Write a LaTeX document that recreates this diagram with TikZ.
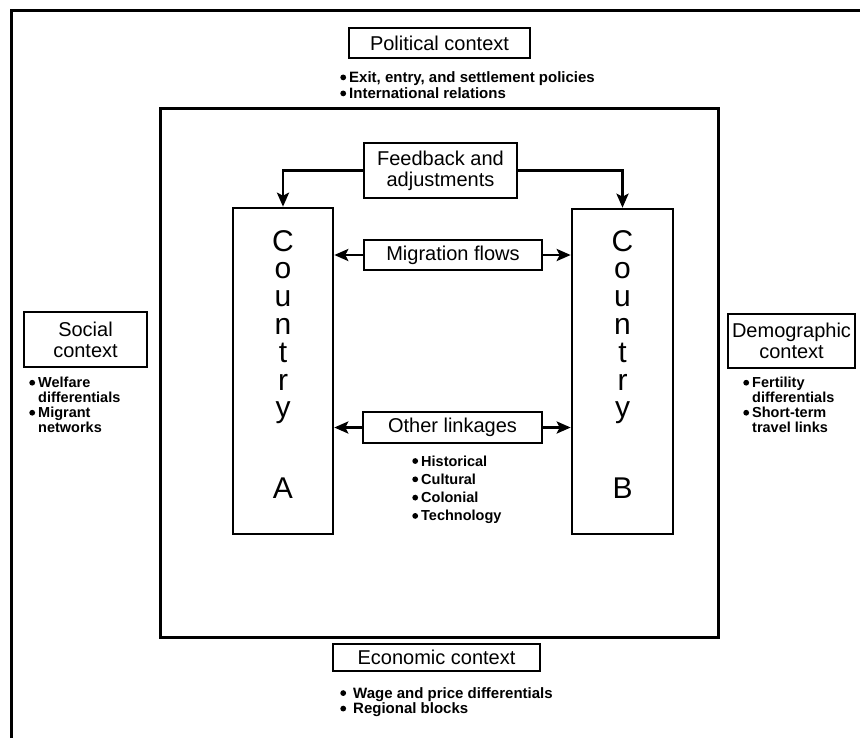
\documentclass[tikz,border=0pt]{standalone}
\usepackage{fontspec}
\setmainfont{Liberation Sans}
\usetikzlibrary{arrows.meta}
\newcommand{\blt}{\tikz[baseline=0pt]{\path (0pt,0pt) rectangle (6pt,9pt);\fill (3pt,5pt) circle[radius=2.9pt];}}
\begin{document}
\begin{tikzpicture}[x=1pt,y=-1pt,
  frame/.style={line width=3pt},
  ctx/.style={draw,line width=2.4pt,inner sep=0pt,align=center,font=\fontsize{20}{21}\selectfont},
  cbox/.style={draw,line width=2.6pt,inner sep=0pt,minimum width=100pt,minimum height=326pt},
  cname/.style={anchor=north,inner sep=0pt,align=center,font=\fontsize{30}{27.8}\selectfont},
  blist/.style={anchor=north west,inner sep=0pt,font=\bfseries\fontsize{15}{16}\selectfont},
  link/.style={line width=2.8pt,-{Stealth[length=14pt,width=12pt,inset=3pt]}}
]
\useasboundingbox (0,0) rectangle (860,740);
% outer frame
\draw[frame] (11,738) -- (11,10) -- (860,10);
% inner box
\node[draw,frame,minimum width=558pt,minimum height=529pt,inner sep=0pt] (inner) at (439,372.5) {};

% context boxes
\node[ctx,minimum width=181pt,minimum height=30pt] (pol) at (439.5,43) {Political context};
\node[blist] (polb) at (340,71) {\begin{tabular}{@{}l@{\hspace{3pt}}l@{}}\blt & Exit, entry, and settlement policies\\ \blt & International relations\end{tabular}};

\node[ctx,minimum width=207pt,minimum height=27pt] (eco) at (436.5,657.5) {Economic context};
\node[blist,font=\bfseries\fontsize{15}{15.5}\selectfont] (ecob) at (340,687) {\begin{tabular}{@{}l@{\hspace{7pt}}l@{}}\blt & Wage and price differentials\\ \blt & Regional blocks\end{tabular}};

\node[ctx,minimum width=123pt,minimum height=55pt] (soc) at (85.5,339.5) {Social\\context};
\node[blist,font=\bfseries\fontsize{14.5}{15}\selectfont] (socb) at (29,377) {\begin{tabular}{@{}l@{\hspace{3pt}}l@{}}\blt & Welfare\\ & differentials\\ \blt & Migrant\\ & networks\end{tabular}};

\node[ctx,minimum width=127pt,minimum height=54pt] (dem) at (791.5,341) {Demographic\\context};
\node[blist,font=\bfseries\fontsize{14.5}{15}\selectfont] (demb) at (743,377) {\begin{tabular}{@{}l@{\hspace{3pt}}l@{}}\blt & Fertility\\ & differentials\\ \blt & Short-term\\ & travel links\end{tabular}};

% countries
\node[cbox] (ca) at (283,371) {};
\node[cbox,minimum width=101pt,minimum height=325pt] (cb) at (622.5,371.5) {};
\node[cname] (na) at (283,230) {C\\o\\u\\n\\t\\r\\y\\[53pt]A};
\node[cname] (nb) at (622.5,230) {C\\o\\u\\n\\t\\r\\y\\[53pt]B};

% middle boxes
\node[ctx,minimum width=153pt,minimum height=55pt] (fb) at (440.5,170.5) {Feedback and\\adjustments};
\node[ctx,minimum width=178pt,minimum height=30pt] (mf) at (453,255) {Migration flows};
\node[ctx,minimum width=179pt,minimum height=31pt] (ol) at (452.5,427.5) {Other linkages};
\node[blist,font=\bfseries\fontsize{14.5}{18.3}\selectfont] (olb) at (412,453) {\begin{tabular}{@{}l@{\hspace{3pt}}l@{}}\blt & Historical\\ \blt & Cultural\\ \blt & Colonial\\ \blt & Technology\end{tabular}};

% connectors
\draw[link] (fb.west) -| (ca.north);
\draw[link] (fb.east) -| (cb.north);
\draw[link] (mf.west) -- (ca.east |- mf.west);
\draw[link] (mf.east) -- (cb.west |- mf.east);
\draw[link] (ol.west) -- (ca.east |- ol.west);
\draw[link] (ol.east) -- (cb.west |- ol.east);
\end{tikzpicture}
\end{document}
